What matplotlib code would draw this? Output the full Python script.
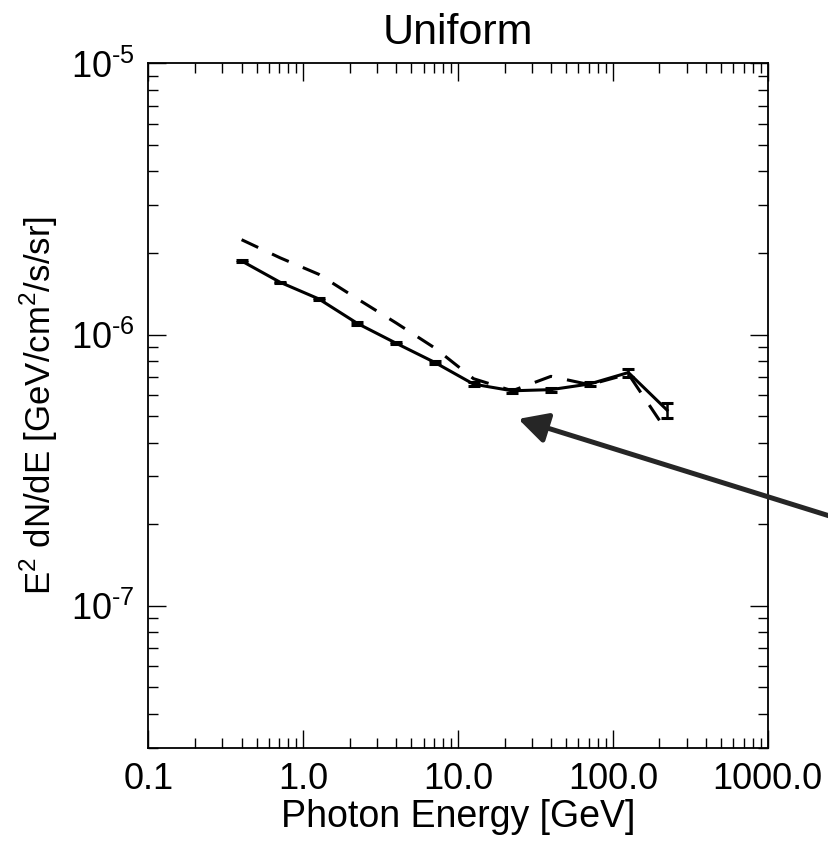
import numpy as np
import matplotlib
matplotlib.use("Agg")
import matplotlib.pyplot as plt
from matplotlib.ticker import FixedLocator, LogLocator, NullFormatter

plt.rcParams['font.family'] = ['Liberation Sans', 'DejaVu Sans']
plt.rcParams['mathtext.fontset'] = 'custom'
plt.rcParams['mathtext.rm'] = 'Liberation Sans'

# energy bins (GeV)
energy = [0.40, 0.71, 1.26, 2.24, 3.98, 7.08, 12.6, 22.4, 39.8, 70.8, 126.0, 224.0]
# solid: measured spectrum with errors
flux = [1.87e-6, 1.56e-6, 1.355e-6, 1.10e-6, 9.3e-7, 7.9e-7,
        6.57e-7, 6.21e-7, 6.27e-7, 6.58e-7, 7.25e-7, 5.27e-7]
flux_err = [0.9e-8, 0.9e-8, 1.1e-8, 1.0e-8, 0.9e-8, 0.9e-8,
            1.0e-8, 1.1e-8, 1.1e-8, 1.3e-8, 2.4e-8, 3.3e-8]
# dashed: model curve
model = [2.24e-6, 1.92e-6, 1.67e-6, 1.355e-6, 1.105e-6, 8.93e-7,
         6.88e-7, 6.21e-7, 7.02e-7, 6.54e-7, 7.16e-7, 4.39e-7]

xticks = [0.1, 1.0, 10.0, 100.0, 1000.0]
xticklabels = ['0.1', '1.0', '10.0', '100.0', '1000.0']
yticks = [1e-7, 1e-6, 1e-5]
yticklabels = [r'$10^{\text{-}7}$', r'$10^{\text{-}6}$', r'$10^{\text{-}5}$']

# arrow: tip and tail (data coords, tail lies off the figure)
arrow_tip = (24.5, 4.89e-7)
arrow_tail = (7160.0, 1.78e-7)

fig = plt.figure(figsize=(8.29, 8.41), dpi=100)
ax = fig.add_axes([0.179, 0.111, 0.747, 0.8135])

ax.plot(energy, model, color='black', lw=2.2, linestyle=(0, (6, 5)))
ax.errorbar(energy, flux, yerr=flux_err, color='black', lw=2.2,
            capsize=4.5, capthick=2.2, elinewidth=1.8)

ax.set_xscale('log')
ax.set_yscale('log')
ax.set_xlim(0.1, 1000.0)
ax.set_ylim(3e-8, 1e-5)

ax.xaxis.set_major_locator(FixedLocator(xticks))
ax.set_xticklabels(xticklabels)
ax.yaxis.set_major_locator(FixedLocator(yticks))
ax.set_yticklabels(yticklabels)
ax.xaxis.set_minor_locator(LogLocator(base=10, subs=np.arange(2, 10)))
ax.yaxis.set_minor_locator(LogLocator(base=10, subs=np.arange(2, 10)))
ax.xaxis.set_minor_formatter(NullFormatter())
ax.yaxis.set_minor_formatter(NullFormatter())

ax.tick_params(which='both', direction='in', top=True, right=True, width=1.0)
ax.tick_params(which='major', length=13, labelsize=26, pad=10)
ax.tick_params(which='minor', length=7)
for sp in ax.spines.values():
    sp.set_linewidth(1.3)

ax.set_title('Uniform', fontsize=31, pad=14)
ax.set_xlabel('Photon Energy [GeV]', fontsize=27, labelpad=2)
ax.set_ylabel(r'E$^2$ dN/dE [GeV/cm$^2$/s/sr]', fontsize=25)
ax.yaxis.set_label_coords(-0.143, 0.5)

ax.annotate('', xy=arrow_tip, xytext=arrow_tail,
            arrowprops=dict(arrowstyle='-|>,head_length=0.8,head_width=0.42',
                            lw=3.6, color='#262626', mutation_scale=22,
                            shrinkA=0, shrinkB=0),
            annotation_clip=False)

fig.savefig('out.png', dpi=100)
